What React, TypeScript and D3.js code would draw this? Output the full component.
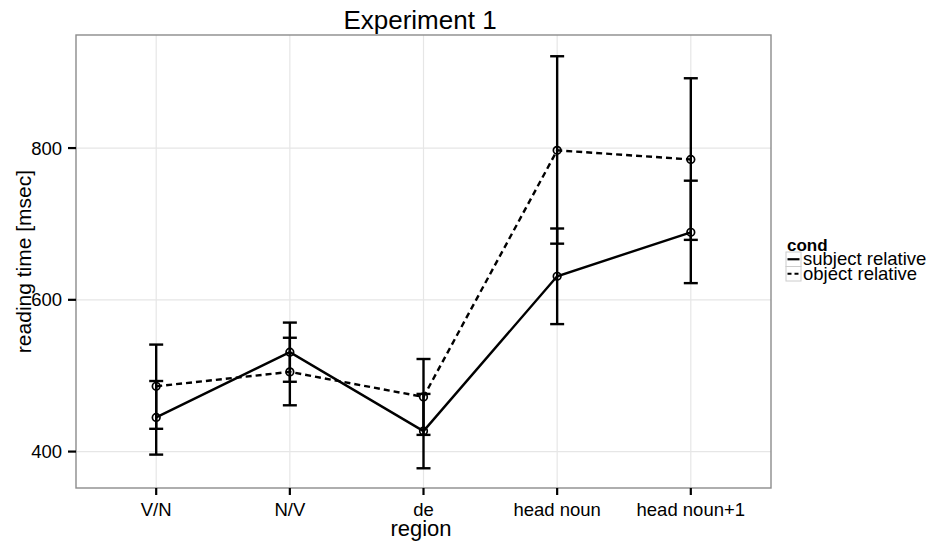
import React from "react";
import * as d3 from "d3";

// regions on the x axis
const regions = ["V/N", "N/V", "de", "head noun", "head noun+1"];

// subject relative: mean and CI bounds (msec)
const subjMean = [445, 531, 427, 631, 689];
const subjLow = [396, 492, 378, 568, 622];
const subjHigh = [493, 570, 476, 694, 757];

// object relative
const objMean = [486, 505, 472, 797, 785];
const objLow = [430, 461, 422, 674, 679];
const objHigh = [541, 550, 522, 921, 892];

const yTicks = [400, 600, 800];
const condNames = ["subject relative", "object relative"];

const width = 933;
const height = 541;
const margin = { top: 35, left: 76, bottom: 53, right: 162 };
const font = "'Liberation Sans', Arial, Helvetica, sans-serif";

export default function App() {
  const iw = width - margin.left - margin.right;
  const ih = height - margin.top - margin.bottom;

  const x = d3.scalePoint<string>().domain(regions).range([0, iw]).padding(0.6);
  const y = d3.scaleLinear().domain([352, 949]).range([ih, 0]);

  const series = [
    { name: condNames[0], mean: subjMean, lo: subjLow, hi: subjHigh, dash: null },
    { name: condNames[1], mean: objMean, lo: objLow, hi: objHigh, dash: "6,4" },
  ];

  const line = d3
    .line<number>()
    .x((_, i) => x(regions[i]) as number)
    .y((d) => y(d));

  const capW = 7;

  return (
    <svg
      width={width}
      height={height}
      style={{ position: "absolute", left: 0, top: 0, background: "#fff" }}
      fontFamily={font}
    >
      <rect width={width} height={height} fill="#fff" />
      <text x={420} y={29} textAnchor="middle" fontSize={26} fill="#000">
        Experiment 1
      </text>
      <g transform={`translate(${margin.left},${margin.top})`}>
        {/* grid */}
        {yTicks.map((t) => (
          <line key={t} x1={0} x2={iw} y1={y(t)} y2={y(t)} stroke="#e6e6e6" strokeWidth={1.2} />
        ))}
        {regions.map((r) => (
          <line key={r} x1={x(r)} x2={x(r)} y1={0} y2={ih} stroke="#e6e6e6" strokeWidth={1.2} />
        ))}

        {/* error bars */}
        {series.map((s) =>
          regions.map((r, i) => {
            const cx = x(r) as number;
            return (
              <g key={s.name + r} stroke="#000" strokeWidth={2.4}>
                <line x1={cx} x2={cx} y1={y(s.lo[i])} y2={y(s.hi[i])} />
                <line x1={cx - capW} x2={cx + capW} y1={y(s.lo[i])} y2={y(s.lo[i])} />
                <line x1={cx - capW} x2={cx + capW} y1={y(s.hi[i])} y2={y(s.hi[i])} />
              </g>
            );
          })
        )}

        {/* lines */}
        {series.map((s) => (
          <path
            key={s.name}
            d={line(s.mean) as string}
            fill="none"
            stroke="#000"
            strokeWidth={2.4}
            strokeDasharray={s.dash ?? undefined}
          />
        ))}

        {/* points */}
        {series.map((s) =>
          s.mean.map((v, i) => (
            <circle
              key={s.name + i}
              cx={x(regions[i])}
              cy={y(v)}
              r={3.8}
              fill="none"
              stroke="#000"
              strokeWidth={1.7}
            />
          ))
        )}

        {/* panel border */}
        <rect x={0} y={0} width={iw} height={ih} fill="none" stroke="#8c8c8c" strokeWidth={1.4} />

        {/* y axis */}
        {yTicks.map((t) => (
          <g key={t}>
            <line x1={-8} x2={0} y1={y(t)} y2={y(t)} stroke="#000" strokeWidth={2.2} />
            <text x={-14} y={y(t) + 6.5} textAnchor="end" fontSize={18.5} fill="#000">
              {t}
            </text>
          </g>
        ))}

        {/* x axis */}
        {regions.map((r) => (
          <g key={r}>
            <line x1={x(r)} x2={x(r)} y1={ih} y2={ih + 7} stroke="#000" strokeWidth={2.2} />
            <text x={x(r)} y={ih + 28} textAnchor="middle" fontSize={18.5} fill="#000">
              {r}
            </text>
          </g>
        ))}
      </g>

      {/* axis titles */}
      <text x={421} y={536} textAnchor="middle" fontSize={22} fill="#000">
        region
      </text>
      <text
        transform={`translate(31,${margin.top + ih / 2}) rotate(-90)`}
        textAnchor="middle"
        fontSize={21}
        fill="#000"
      >
        reading time [msec]
      </text>

      {/* legend */}
      <g transform="translate(786,237)">
        <text x={1} y={14} fontSize={17} fontWeight="bold" fill="#000">
          cond
        </text>
        {series.map((s, i) => (
          <g key={s.name} transform={`translate(0,${15 + i * 14.5})`}>
            <rect x={0} y={0} width={15} height={14.5} fill="#fff" stroke="#ccc" strokeWidth={1} />
            <line
              x1={1.5}
              x2={13.5}
              y1={7.25}
              y2={7.25}
              stroke="#000"
              strokeWidth={2.2}
              strokeDasharray={s.dash ? "4,3" : undefined}
            />
            <text x={17} y={13} fontSize={18.5} fill="#000">
              {s.name}
            </text>
          </g>
        ))}
      </g>
    </svg>
  );
}
